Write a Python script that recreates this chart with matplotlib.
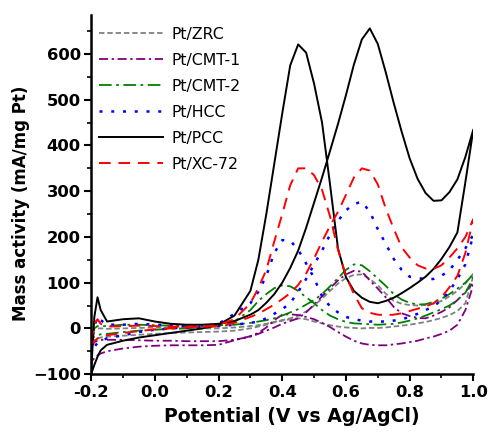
import matplotlib
matplotlib.use("Agg")
import matplotlib.pyplot as plt
from matplotlib.ticker import MultipleLocator

plt.rcParams['font.family'] = ['DejaVu Sans']

# potential grid (V vs Ag/AgCl), same points for forward and backward scans
potential = [-0.2, -0.19, -0.18, -0.17, -0.15, -0.1, -0.05, 0.0, 0.05, 0.1, 0.15,
             0.2, 0.25, 0.3, 0.325, 0.35, 0.375, 0.4, 0.425, 0.45, 0.475, 0.5,
             0.525, 0.55, 0.575, 0.6, 0.625, 0.65, 0.675, 0.7, 0.725, 0.75,
             0.775, 0.8, 0.825, 0.85, 0.875, 0.9, 0.925, 0.95, 0.975, 1.0]

# mass activity (mA/mg Pt), forward (_f) and backward (_b) scans
zrc_f = [-10, -3, 0, 0, -1, 0, 1, 2, 2, 1, 0,
         0, 2, 5, 7, 10, 14, 18, 22, 28, 37, 50,
         65, 82, 98, 110, 117, 118, 108, 94, 76, 60,
         54, 51, 50, 51, 54, 60, 70, 82, 98, 120]
zrc_b = [-30, -25, -22, -20, -18, -16, -14, -12, -10, -9, -8,
         -7, -5, 0, 4, 8, 13, 17, 20, 22, 20, 15,
         11, 7, 4, 2, 1, 0, 1, 1, 2, 4,
         6, 8, 11, 14, 18, 23, 29, 38, 55, 115]

cmt1_f = [-40, -30, -27, -25, -25, -25, -26, -27, -27, -28, -28,
          -28, -25, -18, -12, -5, 2, 10, 16, 22, 35, 52,
          70, 88, 105, 118, 126, 124, 105, 87, 68, 47,
          33, 27, 23, 22, 28, 36, 46, 62, 80, 100]
cmt1_b = [-75, -65, -59, -55, -50, -44, -40, -38, -37, -37, -37,
          -36, -26, -17, -10, 2, 18, 30, 31, 29, 25, 20,
          12, 3, -8, -18, -27, -33, -36, -37, -37, -35,
          -33, -30, -27, -22, -18, -12, -5, 8, 40, 95]

cmt2_f = [-15, 0, 5, 5, 5, 8, 8, 7, 6, 5, 5,
          5, 8, 12, 15, 18, 22, 28, 35, 42, 52, 62,
          75, 92, 110, 128, 140, 138, 125, 109, 93, 75,
          63, 56, 52, 53, 58, 65, 75, 87, 100, 118]
cmt2_b = [-22, -18, -15, -13, -12, -8, -5, -3, -1, 0, 2,
          5, 15, 40, 60, 75, 88, 94, 92, 82, 68, 55,
          40, 28, 20, 14, 11, 10, 9, 8, 9, 10,
          13, 17, 22, 28, 35, 42, 50, 62, 78, 110]

hcc_f = [-40, 5, 25, 18, 8, 8, 10, 8, 6, 5, 4,
         5, 8, 12, 15, 22, 32, 42, 55, 80, 108, 140,
         170, 205, 235, 258, 272, 277, 255, 217, 185, 152,
         128, 113, 110, 108, 108, 115, 127, 150, 175, 205]
hcc_b = [-50, -40, -32, -27, -22, -15, -8, -3, 0, 2, 4,
         10, 32, 55, 80, 115, 165, 193, 192, 172, 142, 110,
         70, 48, 35, 25, 20, 17, 15, 15, 15, 17,
         20, 25, 32, 40, 48, 62, 82, 108, 140, 205]

pcc_f = [-95, 25, 68, 40, 15, 20, 22, 15, 10, 8, 8,
         10, 16, 30, 40, 56, 75, 100, 132, 170, 220, 275,
         330, 388, 447, 510, 577, 632, 656, 622, 560, 493,
         430, 372, 327, 296, 279, 280, 298, 326, 375, 435]
pcc_b = [-100, -80, -62, -48, -36, -27, -20, -15, -10, -5, 0,
         8, 28, 82, 150, 250, 360, 470, 575, 621, 603, 535,
         450, 315, 175, 112, 82, 67, 58, 55, 60, 67,
         77, 88, 100, 113, 130, 152, 178, 210, 320, 435]

xc72_f = [-30, 10, 20, 10, 4, 5, 6, 5, 4, 4, 4,
          5, 12, 25, 32, 42, 52, 64, 77, 95, 120, 153,
          190, 224, 255, 292, 330, 350, 345, 315, 262, 218,
          177, 155, 138, 131, 130, 138, 155, 175, 200, 239]
xc72_b = [-35, -28, -22, -18, -15, -10, -6, -2, 0, 2, 3,
          8, 20, 55, 88, 128, 190, 250, 313, 350, 350, 335,
          303, 245, 172, 115, 75, 44, 34, 30, 29, 30,
          33, 38, 43, 48, 55, 68, 90, 115, 165, 239]

labels = ['Pt/ZRC', 'Pt/CMT-1', 'Pt/CMT-2', 'Pt/HCC', 'Pt/PCC', 'Pt/XC-72']
series = [(zrc_f, zrc_b), (cmt1_f, cmt1_b), (cmt2_f, cmt2_b),
          (hcc_f, hcc_b), (pcc_f, pcc_b), (xc72_f, xc72_b)]
colors = ['#808080', '#800080', '#008000', '#0000ff', '#000000', '#ff0000']
dashes = [(3, 1.6), (5, 2, 1.3, 2), (7, 2.5, 1.5, 2.5), (1.2, 3.5), None, (6, 4)]
widths = [1.3, 1.3, 1.3, 1.8, 1.4, 1.4]

fig = plt.figure(figsize=(4.9, 4.33), dpi=100)
ax = fig.add_axes([0.186, 0.136, 0.78, 0.829])

for lab, (fwd, bwd), col, dsh, lw in zip(labels, series, colors, dashes, widths):
    xs = potential + potential[::-1]
    ys = fwd + bwd[::-1]
    line, = ax.plot(xs, ys, color=col, lw=lw, label=lab)
    if dsh is not None:
        line.set_dashes(dsh)

ax.set_xlim(-0.2, 1.0)
ax.set_ylim(-100, 685)
ax.xaxis.set_minor_locator(MultipleLocator(0.1))
ax.yaxis.set_major_locator(MultipleLocator(100))
ax.yaxis.set_minor_locator(MultipleLocator(50))
ax.set_xticks([-0.2, 0.0, 0.2, 0.4, 0.6, 0.8, 1.0])
ax.set_xticklabels(['-0.2', '0.0', '0.2', '0.4', '0.6', '0.8', '1.0'])

for s in ['top', 'right']:
    ax.spines[s].set_visible(False)
for s in ['left', 'bottom']:
    ax.spines[s].set_linewidth(1.8)

ax.tick_params(which='major', length=5, width=1.5, labelsize=11.8, pad=2.5)
ax.tick_params(which='minor', length=3, width=1.2)
for t in ax.get_xticklabels() + ax.get_yticklabels():
    t.set_fontweight('bold')

ax.set_xlabel('Potential (V vs Ag/AgCl)', fontsize=13.6, fontweight='bold')
ax.set_ylabel('Mass activity (mA/mg Pt)', fontsize=12, fontweight='bold')
ax.xaxis.set_label_coords(0.526, -0.092)
ax.yaxis.set_label_coords(-0.16, 0.476)

ax.legend(loc='upper left', bbox_to_anchor=(0.0, 0.99), frameon=False,
          fontsize=11.3, handlelength=4.1, handletextpad=0.55, labelspacing=0.7,
          borderaxespad=0.3, borderpad=0.2)

fig.savefig('out.png', dpi=100)
